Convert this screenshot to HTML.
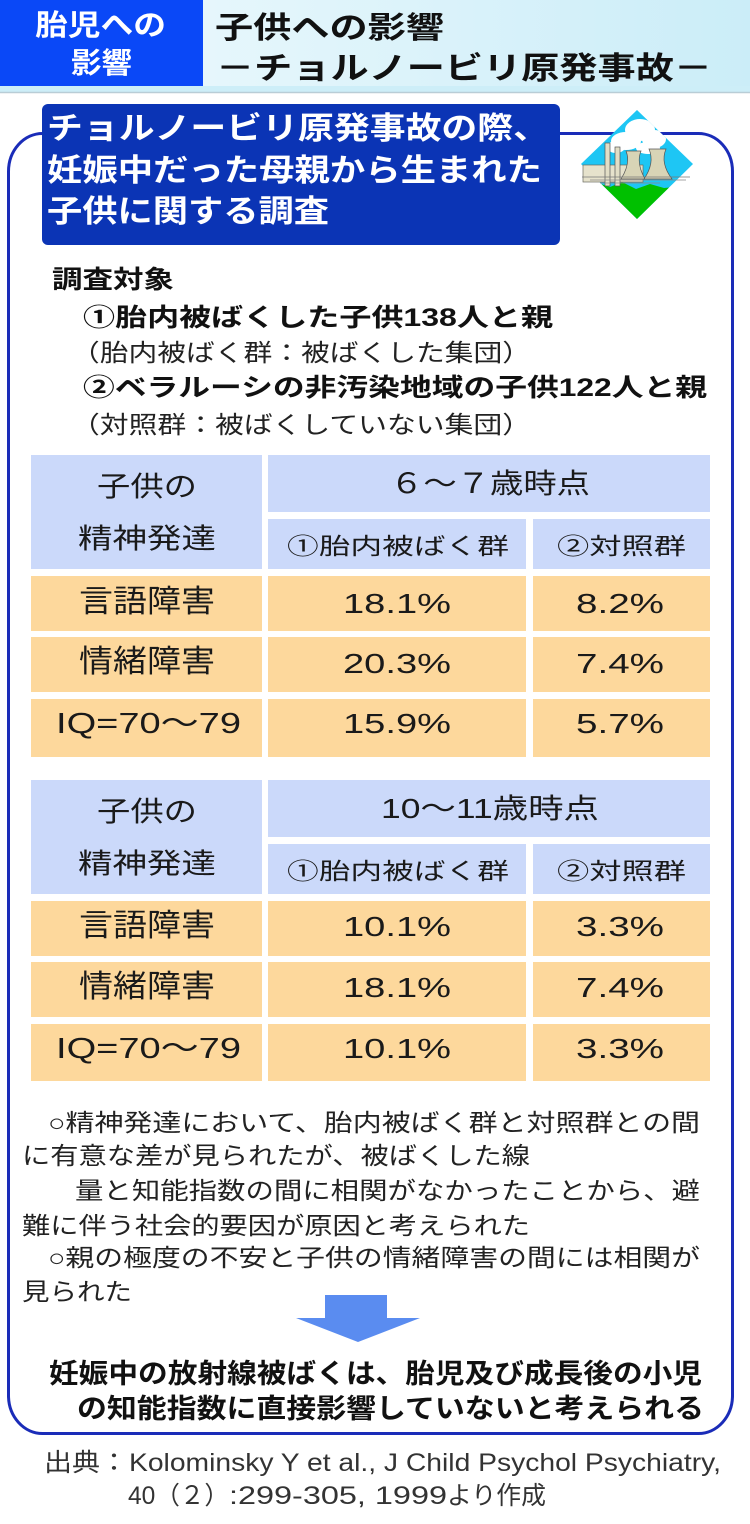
<!DOCTYPE html>
<html><head><meta charset="utf-8">
<style>
html,body{margin:0;padding:0;background:#fff;width:750px;height:1524px;overflow:hidden}
svg{display:block}
text{font-family:"Liberation Sans","Noto Sans CJK JP",sans-serif}
.b{font-weight:bold}
</style></head>
<body>
<svg width="750" height="1524" viewBox="0 0 750 1524" xmlns="http://www.w3.org/2000/svg">
<defs>
<linearGradient id="hg" x1="0" y1="0" x2="1" y2="0">
<stop offset="0" stop-color="#f0fafd"/>
<stop offset="1" stop-color="#cbedf8"/>
</linearGradient>
<clipPath id="dia"><polygon points="637,110 693,164 637,219 581,164"/></clipPath>
</defs>

<!-- header band -->
<rect x="0" y="0" width="750" height="92" fill="url(#hg)"/>
<rect x="0" y="86" width="750" height="6" fill="#cdeef8"/>
<line x1="0" y1="92.5" x2="750" y2="92.5" stroke="#b9cdd6" stroke-width="1.5"/>
<rect x="0" y="0" width="203" height="86" fill="#0a48f7"/>
<text class="b" x="35" y="35" font-size="29" fill="#fff" textLength="131" lengthAdjust="spacingAndGlyphs">胎児への</text>
<text class="b" x="71" y="73" font-size="29" fill="#fff" textLength="61" lengthAdjust="spacingAndGlyphs">影響</text>
<text class="b" x="215" y="38" font-size="30" fill="#111" textLength="229" lengthAdjust="spacingAndGlyphs">子供への影響</text>
<text class="b" x="216" y="79" font-size="31" fill="#111" textLength="496" lengthAdjust="spacingAndGlyphs">－チョルノービリ原発事故－</text>

<!-- outer rounded box -->
<rect x="8.5" y="133.5" width="724" height="1300" rx="34" ry="38" fill="#fff" stroke="#1a2cb8" stroke-width="3"/>

<!-- title box -->
<rect x="42" y="104" width="518" height="141" rx="6" ry="6" fill="#0b34b5"/>
<text class="b" x="47" y="139" font-size="31" fill="#fff" textLength="502" lengthAdjust="spacingAndGlyphs">チョルノービリ原発事故の際、</text>
<text class="b" x="47" y="181" font-size="31" fill="#fff" textLength="495" lengthAdjust="spacingAndGlyphs">妊娠中だった母親から生まれた</text>
<text class="b" x="47" y="222" font-size="31" fill="#fff" textLength="282" lengthAdjust="spacingAndGlyphs">子供に関する調査</text>

<!-- icon -->
<g clip-path="url(#dia)">
<rect x="578" y="106" width="120" height="120" fill="#1ec6f4"/>
<ellipse cx="626" cy="141" rx="15" ry="9" fill="#fff"/>
<ellipse cx="640" cy="130" rx="15" ry="11" fill="#fff"/>
<ellipse cx="654" cy="139" rx="12" ry="9" fill="#fff"/>
<ellipse cx="616" cy="147" rx="9" ry="6" fill="#fff"/>
<ellipse cx="648" cy="148" rx="12" ry="6" fill="#fff"/>
<polygon points="578,192 598,183 610,187 622,182 636,189 650,184 664,188 698,185 698,226 578,226" fill="#00c000"/>
</g>
<rect x="583" y="165" width="60" height="17" fill="#e6e2cc" stroke="#6a6a60" stroke-width="0.7"/>
<rect x="605" y="143" width="5" height="43" fill="#e2dec6" stroke="#555" stroke-width="0.7"/>
<rect x="615" y="147" width="5" height="39" fill="#e2dec6" stroke="#555" stroke-width="0.7"/>
<path d="M626,151 L641,151 Q636,163 645,179 L621,179 Q631,163 626,151Z" fill="#d8d4b6" stroke="#555" stroke-width="0.7"/>
<path d="M649,149 L666,149 Q660,163 672,179 L644,179 Q655,163 649,149Z" fill="#d8d4b6" stroke="#555" stroke-width="0.7"/>
<line x1="582" y1="177" x2="690" y2="177" stroke="#777" stroke-width="0.8"/>
<line x1="590" y1="180" x2="686" y2="180" stroke="#888" stroke-width="0.8"/>
<line x1="600" y1="183" x2="660" y2="183" stroke="#888" stroke-width="0.8"/>

<!-- 調査対象 -->
<text class="b" x="52" y="288" font-size="25" fill="#111" textLength="122" lengthAdjust="spacingAndGlyphs">調査対象</text>
<text class="b" x="83" y="326" font-size="25" fill="#111" textLength="470" lengthAdjust="spacingAndGlyphs">①胎内被ばくした子供138人と親</text>
<text x="71" y="361" font-size="24" fill="#222" textLength="460" lengthAdjust="spacingAndGlyphs">（胎内被ばく群：被ばくした集団）</text>
<text class="b" x="83" y="396" font-size="25" fill="#111" textLength="624" lengthAdjust="spacingAndGlyphs">②ベラルーシの非汚染地域の子供122人と親</text>
<text x="71" y="433" font-size="24" fill="#222" textLength="460" lengthAdjust="spacingAndGlyphs">（対照群：被ばくしていない集団）</text>

<!-- table 1 -->
<g>
<rect x="31" y="455" width="231" height="114" fill="#cbd9fa"/>
<rect x="268" y="455" width="442" height="57" fill="#cbd9fa"/>
<rect x="268" y="519" width="258" height="50" fill="#cbd9fa"/>
<rect x="533" y="519" width="177" height="50" fill="#cbd9fa"/>
<rect x="31" y="576" width="231" height="55" fill="#fdd89c"/>
<rect x="268" y="576" width="258" height="55" fill="#fdd89c"/>
<rect x="533" y="576" width="177" height="55" fill="#fdd89c"/>
<rect x="31" y="637" width="231" height="55" fill="#fdd89c"/>
<rect x="268" y="637" width="258" height="55" fill="#fdd89c"/>
<rect x="533" y="637" width="177" height="55" fill="#fdd89c"/>
<rect x="31" y="699" width="231" height="58" fill="#fdd89c"/>
<rect x="268" y="699" width="258" height="58" fill="#fdd89c"/>
<rect x="533" y="699" width="177" height="58" fill="#fdd89c"/>
<g fill="#1a1a1a">
<text x="97" y="496" font-size="28" textLength="100" lengthAdjust="spacingAndGlyphs">子供の</text>
<text x="78" y="548" font-size="28" textLength="138" lengthAdjust="spacingAndGlyphs">精神発達</text>
<text x="390" y="493" font-size="28" textLength="200" lengthAdjust="spacingAndGlyphs">６～７歳時点</text>
<text x="287" y="554" font-size="23" textLength="222" lengthAdjust="spacingAndGlyphs">①胎内被ばく群</text>
<text x="557" y="554" font-size="23" textLength="129" lengthAdjust="spacingAndGlyphs">②対照群</text>
<text x="79" y="612" font-size="31" textLength="136" lengthAdjust="spacingAndGlyphs">言語障害</text>
<text x="343" y="613" font-size="28" textLength="108" lengthAdjust="spacingAndGlyphs">18.1%</text>
<text x="576" y="613" font-size="28" textLength="88" lengthAdjust="spacingAndGlyphs">8.2%</text>
<text x="79" y="672" font-size="31" textLength="136" lengthAdjust="spacingAndGlyphs">情緒障害</text>
<text x="343" y="673" font-size="28" textLength="108" lengthAdjust="spacingAndGlyphs">20.3%</text>
<text x="576" y="673" font-size="28" textLength="88" lengthAdjust="spacingAndGlyphs">7.4%</text>
<text x="56" y="733" font-size="29" textLength="185" lengthAdjust="spacingAndGlyphs">IQ=70～79</text>
<text x="343" y="733" font-size="28" textLength="108" lengthAdjust="spacingAndGlyphs">15.9%</text>
<text x="576" y="733" font-size="28" textLength="88" lengthAdjust="spacingAndGlyphs">5.7%</text>
</g>
</g>

<!-- table 2 -->
<g>
<rect x="31" y="780" width="231" height="114" fill="#cbd9fa"/>
<rect x="268" y="780" width="442" height="57" fill="#cbd9fa"/>
<rect x="268" y="844" width="258" height="50" fill="#cbd9fa"/>
<rect x="533" y="844" width="177" height="50" fill="#cbd9fa"/>
<rect x="31" y="901" width="231" height="55" fill="#fdd89c"/>
<rect x="268" y="901" width="258" height="55" fill="#fdd89c"/>
<rect x="533" y="901" width="177" height="55" fill="#fdd89c"/>
<rect x="31" y="962" width="231" height="55" fill="#fdd89c"/>
<rect x="268" y="962" width="258" height="55" fill="#fdd89c"/>
<rect x="533" y="962" width="177" height="55" fill="#fdd89c"/>
<rect x="31" y="1024" width="231" height="57" fill="#fdd89c"/>
<rect x="268" y="1024" width="258" height="57" fill="#fdd89c"/>
<rect x="533" y="1024" width="177" height="57" fill="#fdd89c"/>
<g fill="#1a1a1a">
<text x="97" y="821" font-size="28" textLength="100" lengthAdjust="spacingAndGlyphs">子供の</text>
<text x="78" y="873" font-size="28" textLength="138" lengthAdjust="spacingAndGlyphs">精神発達</text>
<text x="381" y="818" font-size="28" textLength="218" lengthAdjust="spacingAndGlyphs">10～11歳時点</text>
<text x="287" y="879" font-size="23" textLength="222" lengthAdjust="spacingAndGlyphs">①胎内被ばく群</text>
<text x="557" y="879" font-size="23" textLength="129" lengthAdjust="spacingAndGlyphs">②対照群</text>
<text x="79" y="936" font-size="31" textLength="136" lengthAdjust="spacingAndGlyphs">言語障害</text>
<text x="343" y="936" font-size="28" textLength="108" lengthAdjust="spacingAndGlyphs">10.1%</text>
<text x="576" y="936" font-size="28" textLength="88" lengthAdjust="spacingAndGlyphs">3.3%</text>
<text x="79" y="997" font-size="31" textLength="136" lengthAdjust="spacingAndGlyphs">情緒障害</text>
<text x="343" y="997" font-size="28" textLength="108" lengthAdjust="spacingAndGlyphs">18.1%</text>
<text x="576" y="997" font-size="28" textLength="88" lengthAdjust="spacingAndGlyphs">7.4%</text>
<text x="56" y="1058" font-size="29" textLength="185" lengthAdjust="spacingAndGlyphs">IQ=70～79</text>
<text x="343" y="1058" font-size="28" textLength="108" lengthAdjust="spacingAndGlyphs">10.1%</text>
<text x="576" y="1058" font-size="28" textLength="88" lengthAdjust="spacingAndGlyphs">3.3%</text>
</g>
</g>

<!-- paragraph -->
<g fill="#222" font-size="24">
<text x="48" y="1131" textLength="652" lengthAdjust="spacingAndGlyphs">○精神発達において、胎内被ばく群と対照群との間</text>
<text x="22" y="1164" textLength="508" lengthAdjust="spacingAndGlyphs">に有意な差が見られたが、被ばくした線</text>
<text x="75" y="1199" textLength="625" lengthAdjust="spacingAndGlyphs">量と知能指数の間に相関がなかったことから、避</text>
<text x="22" y="1234" textLength="508" lengthAdjust="spacingAndGlyphs">難に伴う社会的要因が原因と考えられた</text>
<text x="48" y="1266" textLength="652" lengthAdjust="spacingAndGlyphs">○親の極度の不安と子供の情緒障害の間には相関が</text>
<text x="22" y="1300" textLength="110" lengthAdjust="spacingAndGlyphs">見られた</text>
</g>

<!-- arrow -->
<polygon points="325,1295 387,1295 387,1318 420,1318 358,1342 296,1318 325,1318" fill="#5a8cf0"/>

<!-- conclusion -->
<text class="b" x="49" y="1383" font-size="27" fill="#111" textLength="653" lengthAdjust="spacingAndGlyphs">妊娠中の放射線被ばくは、胎児及び成長後の小児</text>
<text class="b" x="77" y="1418" font-size="27" fill="#111" textLength="627" lengthAdjust="spacingAndGlyphs">の知能指数に直接影響していないと考えられる</text>

<!-- citation -->
<g fill="#333" font-size="25">
<text x="44" y="1471" textLength="84" lengthAdjust="spacingAndGlyphs">出典：</text>
<text x="129" y="1471" textLength="592" lengthAdjust="spacingAndGlyphs">Kolominsky Y et al., J Child Psychol Psychiatry,</text>
<text x="128" y="1504" textLength="101" lengthAdjust="spacingAndGlyphs">40（２）</text>
<text x="229" y="1504" textLength="218" lengthAdjust="spacingAndGlyphs">:299-305, 1999</text>
<text x="447" y="1504" textLength="99" lengthAdjust="spacingAndGlyphs">より作成</text>
</g>
</svg>
</body></html>
